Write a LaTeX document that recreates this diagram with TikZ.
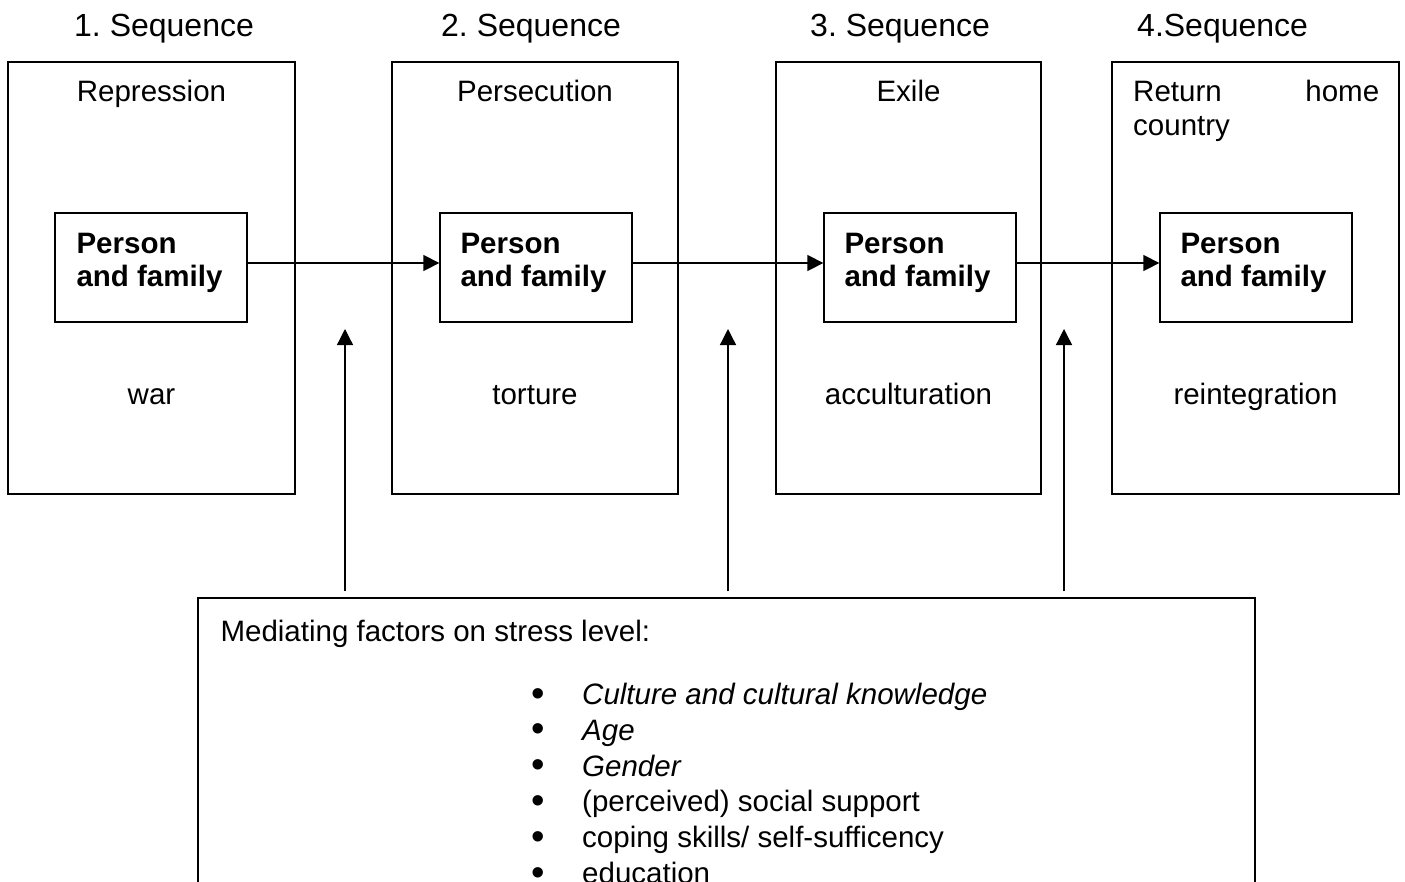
\documentclass[tikz,border=0pt]{standalone}
\usepackage{fontspec}
\setmainfont{Liberation Sans}
\frenchspacing
\usetikzlibrary{arrows.meta, positioning}
\tikzset{
  stagebox/.style={draw, line width=1.3pt, minimum width=#1, minimum height=432pt, inner sep=0pt},
  famibox/.style={draw, line width=1.3pt, minimum width=192pt, minimum height=109pt, inner sep=0pt},
  famitext/.style={font=\fontsize{29.5}{33}\selectfont\bfseries, align=left, anchor=north west, inner sep=0pt},
  seqlabel/.style={font=\fontsize{32}{36}\selectfont, anchor=base west, inner sep=0pt},
  txt/.style={font=\fontsize{29.5}{34}\selectfont, inner sep=0pt},
  flow/.style={-{Triangle[length=16pt,width=16pt]}, line width=1.3pt}
}
\newcommand{\factbullet}{\makebox[0pt][r]{\smash{\raisebox{-1.5pt}{\scalebox{1.3}{\textbullet}}}\hspace{37pt}}}

\begin{document}
\begin{tikzpicture}[x=1pt, y=-1pt]
  \useasboundingbox (0,0) rectangle (1405,881);
  \clip (0,0) rectangle (1405,881);
  % sequence headings
  \node[seqlabel] (h1) at (74,36) {1. Sequence};
  \node[seqlabel] (h2) at (441,36) {2. Sequence};
  \node[seqlabel] (h3) at (810,36) {3. Sequence};
  \node[seqlabel] (h4) at (1137,36) {4.Sequence};
  % the four stages
  \node[stagebox=287pt] (s1) at (151.5,278) {};
  \node[stagebox=286pt] (s2) at (535,278) {};
  \node[stagebox=265pt] (s3) at (908.5,278) {};
  \node[stagebox=287pt] (s4) at (1255.5,278) {};
  \node[txt, anchor=base] (r1) at ([yshift=-40pt]s1.north) {Repression};
  \node[txt, anchor=base] (r2) at ([yshift=-40pt]s2.north) {Persecution};
  \node[txt, anchor=base] (r3) at ([yshift=-40pt]s3.north) {Exile};
  \node[txt, align=left, text width=246pt, anchor=north west] (r4) at (1133,79.5) {Return\hfill home\\country};
  \node[txt, anchor=base] (w1) at ([yshift=90pt]s1.south) {war};
  \node[txt, anchor=base] (w2) at ([yshift=90pt]s2.south) {torture};
  \node[txt, anchor=base] (w3) at ([yshift=90pt]s3.south) {acculturation};
  \node[txt, anchor=base] (w4) at ([yshift=90pt]s4.south) {reintegration};
  % person and family
  \node[famibox] (p1) at (151,267.5) {};
  \node[famibox] (p2) at (536,267.5) {};
  \node[famibox] (p3) at (920,267.5) {};
  \node[famibox] (p4) at (1256,267.5) {};
  \node[famitext] (pt1) at ([xshift=22pt, yshift=-20.5pt]p1.north west) {Person\\and family};
  \node[famitext] (pt2) at ([xshift=21pt, yshift=-20.5pt]p2.north west) {Person\\and family};
  \node[famitext] (pt3) at ([xshift=21pt, yshift=-20.5pt]p3.north west) {Person\\and family};
  \node[famitext] (pt4) at ([xshift=21pt, yshift=-20.5pt]p4.north west) {Person\\and family};
  \draw[flow] ([yshift=4.5pt]p1.east) -- ([yshift=4.5pt]p2.west);
  \draw[flow] ([yshift=4.5pt]p2.east) -- ([yshift=4.5pt]p3.west);
  \draw[flow] ([yshift=4.5pt]p3.east) -- ([yshift=4.5pt]p4.west);
  % mediating factors
  \node[draw, line width=1.3pt, minimum width=1057pt, minimum height=380pt, inner sep=0pt] (factors) at (726.5,788) {};
  \node[txt, anchor=base west] (ftitle) at ([xshift=23pt, yshift=-44pt]factors.north west) {Mediating factors on stress level:};
  \node[txt, font=\fontsize{29.5}{35.8}\selectfont, align=left, anchor=north west] (flist) at (582,683) {%
    \factbullet\textit{Culture and cultural knowledge}\\
    \factbullet\textit{Age}\\
    \factbullet\textit{Gender}\\
    \factbullet(perceived) social support\\
    \factbullet coping skills/ self-sufficency\\
    \factbullet education};
  \coordinate (a1) at (345,329);
  \coordinate (a2) at (728,329);
  \coordinate (a3) at (1064,329);
  \draw[flow] ([yshift=6pt]factors.north -| a1) -- (a1);
  \draw[flow] ([yshift=6pt]factors.north -| a2) -- (a2);
  \draw[flow] ([yshift=6pt]factors.north -| a3) -- (a3);
\end{tikzpicture}
\end{document}
